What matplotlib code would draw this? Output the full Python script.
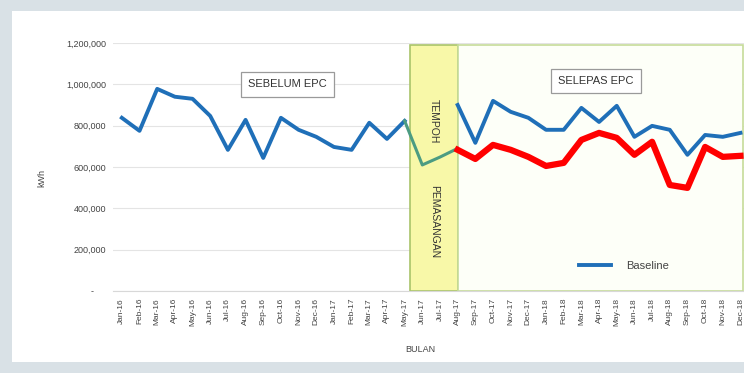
import matplotlib.pyplot as plt
import matplotlib.patches as mpatches
from matplotlib.ticker import FuncFormatter
import numpy as np

# data
bulan = ['Jan-16', 'Feb-16', 'Mar-16', 'Apr-16', 'May-16', 'Jun-16', 'Jul-16', 'Aug-16',
         'Sep-16', 'Oct-16', 'Nov-16', 'Dec-16', 'Jan-17', 'Feb-17', 'Mar-17', 'Apr-17',
         'May-17', 'Jun-17', 'Jul-17', 'Aug-17', 'Sep-17', 'Oct-17', 'Nov-17', 'Dec-17',
         'Jan-18', 'Feb-18', 'Mar-18', 'Apr-18', 'May-18', 'Jun-18', 'Jul-18', 'Aug-18',
         'Sep-18', 'Oct-18', 'Nov-18', 'Dec-18']

baseline = [838000, 775000, 978000, 940000, 930000, 847000, 683000, 828000,
            644000, 838000, 780000, 746000, 697000, 683000, 814000, 736000,
            823000, np.nan, np.nan, 900000, 717000, 920000, 867000, 838000,
            780000, 780000, 886000, 818000, 896000, 746000, 799000, 780000,
            659000, 755000, 746000, 765000]

pemasangan = [np.nan] * 16 + [823000, 610000, 648000, 690000] + [np.nan] * 16

selepas = [np.nan] * 19 + [683000, 639000, 707000, 683000, 649000,
                           605000, 620000, 731000, 765000, 741000, 659000, 722000, 513000,
                           499000, 697000, 649000, 654000]

x = np.arange(len(bulan))

plt.rcParams['font.family'] = ['Liberation Sans', 'DejaVu Sans']

fig = plt.figure(figsize=(7.44, 3.73), dpi=100)
fig.patch.set_facecolor('#d9e1e6')
# panel putih
fig.patches.append(mpatches.Rectangle((12 / 744, 11 / 373), 1, 351 / 373,
                                      transform=fig.transFigure, facecolor='white',
                                      edgecolor='none', zorder=-1))

ax = fig.add_axes([113 / 744, (373 - 291) / 373, 631 / 744, 248 / 373])
ax.set_facecolor('white')

# kotak tempoh pemasangan & selepas EPC
ax.add_patch(mpatches.Rectangle((16.3, 0), 2.72, 1190000, facecolor='#f8f8a8',
                                edgecolor='#a9c46a', linewidth=1.2, zorder=1))
ax.add_patch(mpatches.Rectangle((19.02, 0), 16.1, 1190000, facecolor='#fdfff8',
                                edgecolor='#c6dc9a', linewidth=1.2, zorder=1))

ax.text(17.66, 822000, 'TEMPOH', rotation=-90, fontsize=7.5, ha='center', va='center',
        color='#333333', zorder=2)
ax.text(17.66, 334000, 'PEMASANGAN', rotation=-90, fontsize=7.5, ha='center', va='center',
        color='#333333', zorder=2)

ax.plot(x, baseline, color='#1f6fb8', linewidth=2.8, label='Baseline', zorder=3)
ax.plot(x, pemasangan, color='#4c9c82', linewidth=2.2, zorder=3)
ax.plot(x, selepas, color='#ff0000', linewidth=4.5, zorder=4)

ax.set_xlim(-0.5, 35.2)
ax.set_ylim(0, 1200000)
ax.set_yticks(np.arange(0, 1200001, 200000))
ax.yaxis.set_major_formatter(FuncFormatter(lambda v, p: '-     ' if v == 0 else f'{v:,.0f}'))
ax.set_xticks(x)
ax.set_xticklabels(bulan, rotation=90, fontsize=6, color='#444444')
ax.tick_params(axis='y', labelsize=6.5, colors='#444444', length=0, pad=5)
ax.tick_params(axis='x', length=0, pad=5)

ax.grid(axis='y', color='#e4e4e4', linewidth=0.8, zorder=0)
ax.set_axisbelow(True)
for s in ['top', 'right', 'left']:
    ax.spines[s].set_visible(False)
ax.spines['bottom'].set_color('#d8d8d8')

ax.set_ylabel('kWh', fontsize=6.5, color='#444444')
ax.yaxis.set_label_coords(-0.105, 0.456)
ax.set_xlabel('BULAN', fontsize=6.5, color='#444444')
ax.xaxis.set_label_coords(0.487, -0.218)

box = dict(boxstyle='square,pad=0.65', facecolor='white', edgecolor='#9a9a9a', linewidth=0.9)
ax.text(9.37, 1000000, 'SEBELUM EPC', fontsize=8, ha='center', va='center',
        color='#333333', bbox=box, zorder=5)
ax.text(26.84, 1015000, 'SELEPAS EPC', fontsize=8, ha='center', va='center',
        color='#333333', bbox=box, zorder=5)

ax.legend(loc='center', bbox_to_anchor=(0.81, 0.10), frameon=False, fontsize=8,
          handlelength=2.9, handletextpad=1.4, labelcolor='#444444')

fig.savefig('out.png', dpi=100, facecolor=fig.get_facecolor())
